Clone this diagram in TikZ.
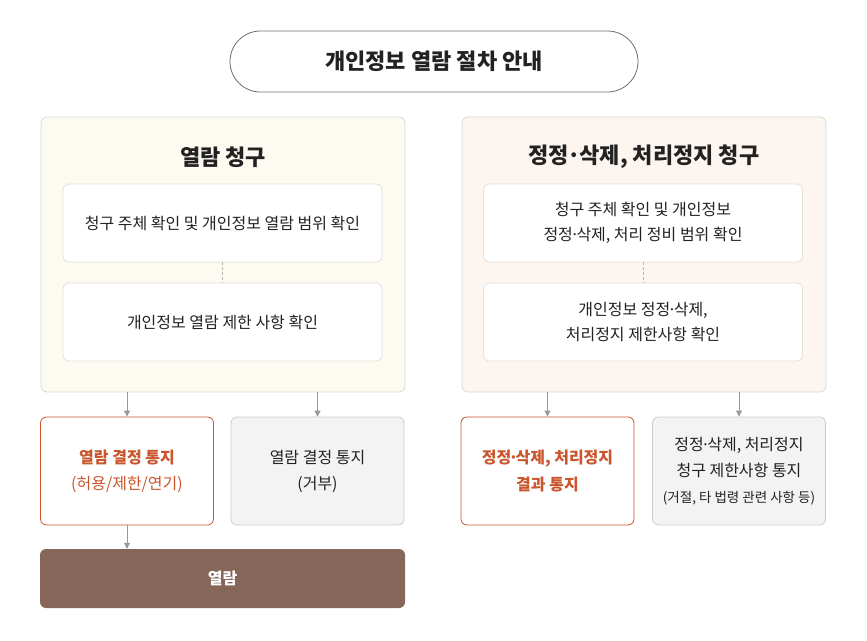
\documentclass[tikz,border=0pt]{standalone}
\usepackage{fontspec}
\setmainfont{Noto Sans CJK KR}
\usetikzlibrary{arrows.meta, positioning}
\definecolor{textdark}{RGB}{34,34,34}
\definecolor{linegray}{RGB}{110,110,110}
\definecolor{creamfill}{RGB}{253,250,241}
\definecolor{blushfill}{RGB}{252,245,240}
\definecolor{panelline}{RGB}{221,216,206}
\definecolor{boxline}{RGB}{228,224,218}
\definecolor{noticeorange}{RGB}{201,86,44}
\definecolor{rejectfill}{RGB}{243,243,243}
\definecolor{rejectline}{RGB}{204,204,204}
\definecolor{viewbrown}{RGB}{134,102,88}
\definecolor{arrowgray}{RGB}{153,153,153}
\newcommand{\sdot}{\kern-.17em·\kern-.17em}

\tikzset{
  panel/.style={draw=panelline, line width=0.8pt, rounded corners=6pt, minimum width=364pt, minimum height=275pt},
  paneltitle/.style={text=textdark, font=\bfseries\fontsize{22}{26}\selectfont},
  checkbox/.style={draw=boxline, line width=0.8pt, fill=white, rounded corners=6pt, minimum width=319pt, minimum height=78pt, align=center, text=textdark, font=\fontsize{16}{25}\selectfont},
  noticebox/.style={line width=0.8pt, rounded corners=6pt, minimum width=173pt, minimum height=108pt, align=center, font=\fontsize{16}{26}\selectfont},
  flowarrow/.style={draw=arrowgray, line width=0.8pt, -{Triangle[length=6pt,width=6pt]}},
  linkdash/.style={draw=arrowgray!70, line width=0.6pt, dash pattern=on 3pt off 2pt}
}

\begin{document}
\begin{tikzpicture}[x=1pt, y=-1pt]
\useasboundingbox (0,0) rectangle (867,640);

% Title
\node[draw=linegray, line width=0.8pt, rounded corners=30.5pt, minimum width=408pt, minimum height=61pt, text=textdark, font=\bfseries\fontsize{22}{26}\selectfont] (title) at (434,61.5) {개인정보 열람 절차 안내};

% Left panel: access request
\node[panel, fill=creamfill] (reqpanel) at (223,254.5) {};
\node[paneltitle] (reqtitle) at (223,157) {열람 청구};
\node[checkbox] (reqscope) at (222.5,223) {청구 주체 확인 및 개인정보 열람 범위 확인};
\node[checkbox] (reqlimit) at (222.5,322) {개인정보 열람 제한 사항 확인};
\draw[linkdash] (reqscope) -- (reqlimit);

% Right panel: correction / deletion / suspension request
\node[panel, fill=blushfill] (fixpanel) at (644,254.5) {};
\node[paneltitle] (fixtitle) at (644,157) {정정\kern-.07em·\kern-.07em삭제, 처리정지 청구};
\node[checkbox] (fixscope) at (643,223) {청구 주체 확인 및 개인정보\\정정\sdot 삭제, 처리 정비 범위 확인};
\node[checkbox] (fixlimit) at (643,322) {개인정보 정정\sdot 삭제,\\처리정지 제한사항 확인};
\draw[linkdash] (fixscope) -- (fixlimit);

% Notices
\node[noticebox, draw=noticeorange, fill=white, text=noticeorange] (viewok) at (127,471) {\textbf{열람 결정 통지}\\(허용/제한/연기)};
\node[noticebox, draw=rejectline, fill=rejectfill, text=textdark] (viewno) at (317.5,471) {열람 결정 통지\\(거부)};
\node[noticebox, draw=noticeorange, fill=white, text=noticeorange, font=\bfseries\fontsize{16}{26}\selectfont] (fixok) at (547.5,471) {정정\sdot 삭제, 처리정지\\결과 통지};
\node[noticebox, draw=rejectline, fill=rejectfill, text=textdark] (fixno) at (739,471) {정정\sdot 삭제, 처리정지\\청구 제한사항 통지\\{\fontsize{13.5}{20}\selectfont (거절, 타 법령 관련 사항 등)}};

% Access
\node[fill=viewbrown, rounded corners=6pt, minimum width=365pt, minimum height=59pt, text=white, font=\bfseries\fontsize{16}{18}\selectfont] (view) at (222.5,578.5) {열람};

% Arrows
\draw[flowarrow] (viewok.north |- reqpanel.south) -- (viewok.north);
\draw[flowarrow] (viewno.north |- reqpanel.south) -- (viewno.north);
\draw[flowarrow] (fixok.north |- fixpanel.south) -- (fixok.north);
\draw[flowarrow] (fixno.north |- fixpanel.south) -- (fixno.north);
\draw[flowarrow] (viewok.south) -- (view.north -| viewok.south);
\end{tikzpicture}
\end{document}
